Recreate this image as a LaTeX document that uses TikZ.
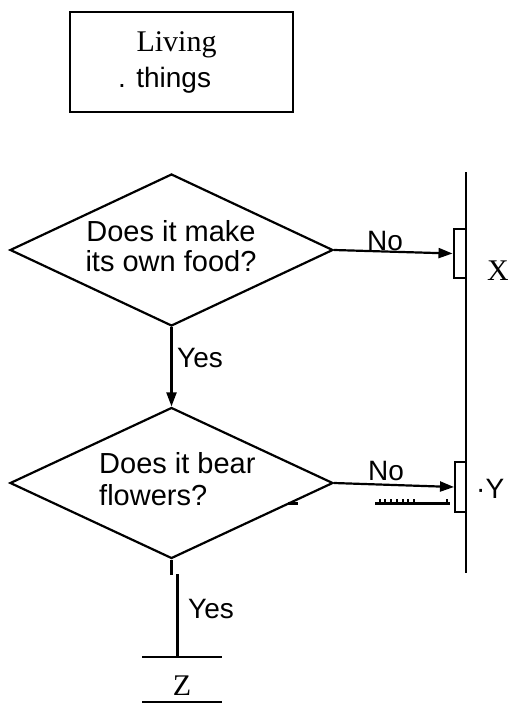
\documentclass[tikz,border=0pt]{standalone}
\usepackage{fontspec}
\setmainfont{Liberation Serif}
\setsansfont{Liberation Sans}
\usetikzlibrary{shapes.geometric,arrows.meta}
\begin{document}
\begin{tikzpicture}[x=1pt,y=-1pt,
  dia/.style={diamond, draw, line width=2.2pt, inner sep=0pt, minimum width=323pt, minimum height=152pt},
  qtext/.style={font=\fontsize{29}{30}\selectfont\sffamily, inner sep=0pt},
  lab/.style={font=\fontsize{28}{30}\selectfont\sffamily, inner sep=0pt},
  serlab/.style={font=\fontsize{30}{33}\selectfont\rmfamily, inner sep=0pt},
  conn/.style={line width=2.2pt},
  arr/.style={conn, -{Triangle[length=14pt,width=10pt]}},
  endbox/.style={draw, line width=2pt, inner sep=0pt, minimum width=12pt, minimum height=49pt},
]
\useasboundingbox (0,0) rectangle (508,706);

% top box
\node[draw, line width=2pt, minimum width=223pt, minimum height=100pt, inner sep=0pt] (lt) at (181.5,62) {};
\node[serlab, anchor=base] (liv) at (176.5,52) {Living};
\node[lab, anchor=base west] (thg) at (118,88) {. things};

% vertical line
\coordinate (vt) at (466,172);
\coordinate (vb) at (466,573);
\draw[line width=2.4pt] (vt) -- (vb);

% diamond 1
\node[dia] (d1) at (171.5,250) {};
\node[qtext, align=center] (q1) at (171,246.5) {Does it make\\its own food?};
\node[endbox] (xb) at (459.5,253.5) {};
\draw[arr] (d1.east) -- (xb.west);
\node[lab, anchor=base] (no1) at (385,250) {No};
\node[serlab, anchor=base west] (xl) at (487,280) {X};

% diamond 2
\node[dia, minimum height=151pt] (d2) at (171.5,483) {};
\node[qtext, align=left, anchor=west] (q2) at (99,479) {Does it bear\\[2pt]flowers?};
\draw[arr] (d1.south) -- (d2.north);
\node[lab, anchor=base west] (yes1) at (177,367) {Yes};

\node[endbox, minimum width=11pt, minimum height=50pt] (yb) at (460.5,487) {};
\draw[arr] (d2.east) -- (yb.west);
\node[lab, anchor=base] (no2) at (386,480) {No};
\node[lab, anchor=base west] (yl) at (476,498) {·Y};

% hatch mark under arrow
\coordinate (h1) at (375,503);
\coordinate (h2) at (450,503);
\draw[line width=3pt] (h1) -- (h2);
\foreach \hx in {380,385,391,397,403,408,414,447} {
  \draw[line width=1.2pt] (\hx,503) -- (\hx,498.5);
}
\coordinate (m1) at (288,503.5);
\coordinate (m2) at (298,503.5);
\draw[line width=3pt] (m1) -- (m2);

% yes branch to Z
\draw[conn] (d2.south) -- ++(0,15) coordinate (stub);
\coordinate (zt) at (177.5,574);
\coordinate (zl1) at (142,657);
\coordinate (zr1) at (222,657);
\coordinate (zl2) at (142,702);
\coordinate (zr2) at (222,702);
\draw[conn] (zl1) -- (zr1);
\draw[line width=1.8pt] (zl2) -- (zr2);
\draw[line width=2.4pt] (zt) -- (zt |- zl1);
\node[lab, anchor=base west] (yes2) at (188,618) {Yes};
\node[serlab, anchor=base] (z) at (182,695) {Z};
\end{tikzpicture}
\end{document}
